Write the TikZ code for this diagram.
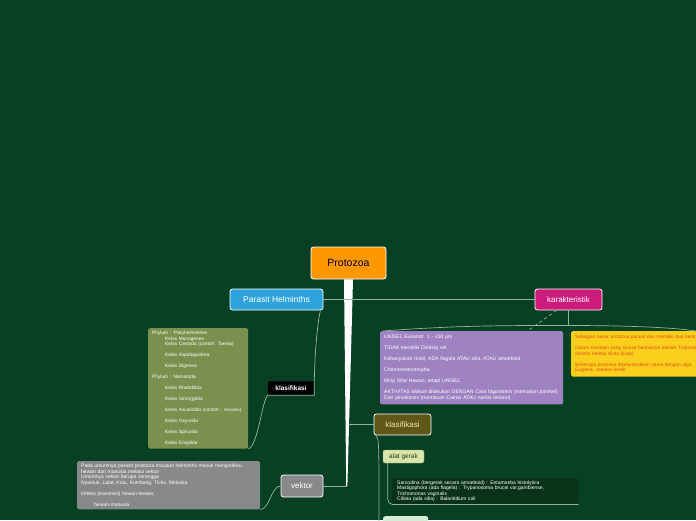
\documentclass[tikz,border=0pt]{standalone}
\usepackage{fontspec}
\setmainfont{Liberation Sans}
\usetikzlibrary{positioning,calc}

\definecolor{bgc}{RGB}{7,64,35}
\definecolor{linkc}{RGB}{150,178,160}
\definecolor{orangec}{RGB}{255,152,0}
\definecolor{bluec}{RGB}{46,163,219}
\definecolor{magc}{RGB}{204,28,123}
\definecolor{purc}{RGB}{159,130,194}
\definecolor{yelc}{RGB}{249,207,28}
\definecolor{yeltext}{RGB}{230,80,30}
\definecolor{olivec}{RGB}{123,143,79}
\definecolor{darkolive}{RGB}{95,87,22}
\definecolor{olivetext}{RGB}{242,232,166}
\definecolor{paleg}{RGB}{217,230,170}
\definecolor{paletext}{RGB}{40,60,20}
\definecolor{grayc}{RGB}{136,137,139}
\definecolor{darkbox}{RGB}{10,50,25}
\definecolor{mintc}{RGB}{214,236,214}

\begin{document}
\begin{tikzpicture}[
  x=1pt, y=-1pt,
  topic/.style={draw=white, line width=0.8pt, rounded corners=2.5pt, align=center, inner sep=0pt, minimum width=#1},
  topic/.default=60pt,
  tag/.style={rounded corners=2pt, align=center, inner sep=0pt},
  txtbox/.style={rounded corners=1.5pt, align=left, anchor=north west, inner xsep=4pt, inner ysep=3pt, font=\fontsize{4.8}{5.5}\selectfont},
  link/.style={draw=linkc, line width=0.7pt},
]
% Background and frame
\fill[bgc] (0,0) rectangle (696,520);
\clip (0,0) rectangle (696,520);

% Central topic
\node[topic=75pt, fill=orangec, minimum height=32pt, font=\fontsize{10.5}{12}\selectfont] (proto) at (348.5,263) {Protozoa};

% Main branches
\node[topic=93pt, fill=bluec, minimum height=21pt, text=white, font=\fontsize{8.5}{10}\selectfont] (ph) at (276.5,299.5) {Parasit Helminths};
\node[topic=67pt, fill=magc, minimum height=21pt, text=white, font=\fontsize{8}{10}\selectfont] (kar) at (568.5,299.5) {karakteristik};
\node[topic=57pt, fill=darkolive, minimum height=21pt, text=olivetext, font=\fontsize{8}{10}\selectfont] (klas) at (402.5,424.5) {klasifikasi};
\node[topic=42pt, fill=grayc, minimum height=22pt, text=white, font=\fontsize{8}{10}\selectfont] (vek) at (302,486) {vektor};

% Sub topics
\node[tag, fill=black, text=white, minimum width=46pt, minimum height=14pt, font=\bfseries\fontsize{6.5}{8}\selectfont] (lab) at (291,388) {klasifikasi};
\node[tag, draw=paleg!70!black, fill=paleg, text=paletext, minimum width=41pt, minimum height=13pt, font=\fontsize{6.5}{8}\selectfont] (ag) at (403.5,456.5) {alat gerak};
\node[tag, fill=mintc, anchor=north west, minimum width=45pt, minimum height=12pt] (ag2) at (383,516) {};

% Helminth classes
\node[txtbox, fill=olivec, text=white, text width=92pt] (oli) at (148,328) {%
  Phylum : Platyhelminthes\\
  \hspace*{13pt}Kelas Monogenea\\
  \hspace*{13pt}Kelas Cestoda (contoh: Taenia)\\[5.5pt]
  \hspace*{13pt}Kelas Aspidogastrea\\[5.5pt]
  \hspace*{13pt}Kelas Digenea\\[5.5pt]
  Phylum : Nematoda\\[5.5pt]
  \hspace*{13pt}Kelas Rhabditida\\[5.5pt]
  \hspace*{13pt}Kelas Strongylida\\[5.5pt]
  \hspace*{13pt}Kelas Ascaridida (contoh : Ascaris)\\[5.5pt]
  \hspace*{13pt}Kelas Oxyurida\\[5.5pt]
  \hspace*{13pt}Kelas Spirurida\\[5.5pt]
  \hspace*{13pt}Kelas Enoplida};

% Characteristics
\node[txtbox, fill=purc, text=white, text width=178pt, inner xsep=2.5pt, inner ysep=4pt, font=\fontsize{5.1}{5.5}\selectfont] (pur) at (380,331) {%
  \hspace*{1.5pt}UNISEL Eukariot: 1 - 150 µm\\[5.5pt]
  \hspace*{1.5pt}TIDAK memiliki Dinding sel\\[5.5pt]
  \hspace*{1.5pt}Kebanyakan motil, ADA flagela ATAU silia, ATAU amoeboid\\[5.5pt]
  \hspace*{1.5pt}Chemoheterotropha\\[5.5pt]
  \hspace*{1.5pt}Mirip Sifat Hewan, tetapi UNISEL\\[5.5pt]
  \hspace*{1.5pt}AKTIVITAS Makan dilakukan DENGAN Cara fagositosis (memakan partikel)\\
  \hspace*{1.5pt}Dan pinositosis (meminum Cairan ATAU nutrisi terlarut)};
\node[txtbox, fill=yelc, text=yeltext, text width=160pt, inner ysep=4pt] (yel) at (571,331) {%
  Sebagian besar protozoa parasit dan memiliki dua bentuk\\[5.5pt]
  Dalam keadaan yang sesuai bentuknya adalah Tropozoit\\
  ekstrim bentuk Kista (kista)\\[5.5pt]
  Beberapa protozoa dikelompokkan sama dengan alga\\
  Euglena, cetakan lendir};

% Vectors
\node[txtbox, fill=grayc, text=white, text width=175pt, inner ysep=3pt, font=\fontsize{5}{5.5}\selectfont] (gry) at (77,461) {%
  Pada umumnya parasit protozoa maupun helminths masuk menginfeksi\\
  hewan dan manusia melalui vektor\\
  Umumnya vektor berupa serangga\\
  Nyamuk, Lalat, Kutu, Kumbang, Ticks, Moluska\\[5.5pt]
  Infeksi (transmisi) hewan-hewan,\\[5.5pt]
  \hspace*{13pt}hewan-manusia};

% Locomotion
\node[txtbox, fill=darkbox, text=white, text width=176pt, inner ysep=2.5pt, inner xsep=5pt, font=\fontsize{5}{5.5}\selectfont] (drk) at (392,478) {%
  Sarcodina (bergerak secara amoeboid) : Entamoeba histolytica\\
  Mastigophora (ada flagela) : Trypanosoma brucei var.gambiense,\\
  Trichomonas vaginalis\\
  Ciliata (ada silia) : Balantidium coli};

% Trunk
\coordinate (tend) at (346.8,486);
\fill[white] ([xshift=-4.5pt]proto.south) -- ([xshift=4.5pt]proto.south) -- ([xshift=0.6pt]tend) -- ([xshift=-0.6pt]tend) -- cycle;
\draw[link] (tend) -- (vek.east);
\draw[link] (proto.south |- klas.west) -- (klas.west);
\draw[link] (ph.east) -- (kar.west);

% Helminth links
\draw[link] ([xshift=-3pt]ph.south east) .. controls (316,330) and (314,370) .. (lab.south east) -- (lab.south west)
  .. controls (262,400) and (258,446) .. (oli.south east);

% Characteristic links
\coordinate (karbase) at (568.5,325.5);
\coordinate (archend) at (696,331);
\draw[link] (kar.south) -- (karbase);
\draw[link] ([xshift=3pt]pur.north west) .. controls (460,325) and (520,325.5) .. (karbase)
  .. controls (620,325.5) and (670,327) .. (archend);
\draw[link, dashed] ([xshift=-12pt]kar.south) -- ([xshift=-36pt]pur.north east);

% Classification links
\coordinate (kdown) at (379,522);
\draw[link] ([xshift=2pt]klas.south west) .. controls (379,438) .. (kdown);
\draw[link, rounded corners=5pt] ([xshift=5pt]ag.south west) |- (drk.south east);

% Vector link
\draw[link] (vek.west) .. controls (271,486) and (270,509) .. (gry.south east);
\end{tikzpicture}
\end{document}
